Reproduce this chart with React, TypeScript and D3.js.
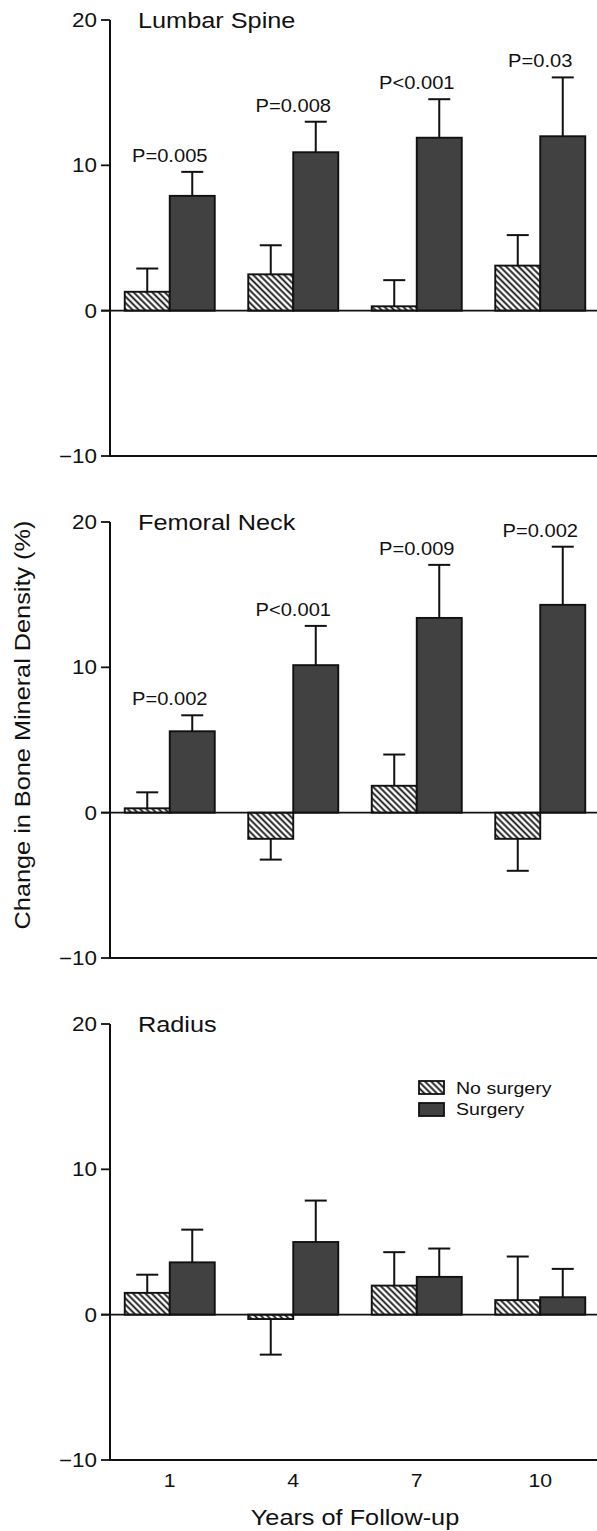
import React from 'react';
import * as d3 from 'd3';

// follow-up years and the two groups
const YEARS = ['1', '4', '7', '10'];
const SERIES = ['No surgery', 'Surgery'];
const Y_DOMAIN: [number, number] = [-10, 20];

// Lumbar spine: mean change (%) and SE
const LUMBAR_NO = [1.3, 2.5, 0.3, 3.1];
const LUMBAR_NO_SE = [1.6, 2.0, 1.8, 2.1];
const LUMBAR_SURG = [7.9, 10.9, 11.9, 12.0];
const LUMBAR_SURG_SE = [1.65, 2.1, 2.65, 4.05];
const LUMBAR_P = ['P=0.005', 'P=0.008', 'P<0.001', 'P=0.03'];

// Femoral neck
const FEMORAL_NO = [0.3, -1.8, 1.85, -1.8];
const FEMORAL_NO_SE = [1.1, 1.43, 2.15, 2.2];
const FEMORAL_SURG = [5.6, 10.15, 13.4, 14.3];
const FEMORAL_SURG_SE = [1.1, 2.7, 3.65, 4.0];
const FEMORAL_P = ['P=0.002', 'P<0.001', 'P=0.009', 'P=0.002'];

// Radius
const RADIUS_NO = [1.5, -0.3, 2.0, 1.0];
const RADIUS_NO_SE = [1.25, 2.45, 2.3, 3.0];
const RADIUS_SURG = [3.6, 5.0, 2.6, 1.2];
const RADIUS_SURG_SE = [2.25, 2.85, 1.95, 1.95];
const RADIUS_P: string[] = [];

const PANELS = [
  { title: 'Lumbar Spine', no: LUMBAR_NO, noSe: LUMBAR_NO_SE, surg: LUMBAR_SURG, surgSe: LUMBAR_SURG_SE, p: LUMBAR_P },
  { title: 'Femoral Neck', no: FEMORAL_NO, noSe: FEMORAL_NO_SE, surg: FEMORAL_SURG, surgSe: FEMORAL_SURG_SE, p: FEMORAL_P },
  { title: 'Radius', no: RADIUS_NO, noSe: RADIUS_NO_SE, surg: RADIUS_SURG, surgSe: RADIUS_SURG_SE, p: RADIUS_P },
];

const W = 597;
const H = 1531;
const AXIS_X = 110;
const PANEL_TOP = [20, 522, 1024];
const PANEL_H = 436;
const DARK = '#414141';
const INK = '#111';
const FONT = '"Liberation Sans", Arial, Helvetica, sans-serif';
const STRETCH = 1.15; // the type in the figure runs wide

const x = d3.scaleBand<string>().domain(YEARS).range([108, 602]);
const inner = d3.scaleBand<string>().domain(SERIES).range([-45, 45]);

// wide-set text helper
const T: React.FC<{ x: number; y: number; size: number; anchor?: string; rotate?: number; children: React.ReactNode }> = ({
  x: tx, y: ty, size, anchor = 'start', rotate = 0, children,
}) => (
  <text
    transform={`translate(${tx},${ty}) rotate(${rotate}) scale(${STRETCH},1)`}
    fontSize={size}
    textAnchor={anchor}
    fontFamily={FONT}
    fill={INK}
  >
    {children}
  </text>
);

const Panel: React.FC<{ idx: number }> = ({ idx }) => {
  const d = PANELS[idx];
  const top = PANEL_TOP[idx];
  const y = d3.scaleLinear().domain(Y_DOMAIN).range([top + PANEL_H, top]);
  const y0 = y(0);
  const ticks = y.ticks(3);

  const bars = YEARS.flatMap((yr, i) => [
    { yr, s: SERIES[0], v: d.no[i], se: d.noSe[i] },
    { yr, s: SERIES[1], v: d.surg[i], se: d.surgSe[i] },
  ]);

  return (
    <g>
      {/* y axis */}
      <line x1={AXIS_X} x2={AXIS_X} y1={y(20)} y2={y(-10)} stroke={INK} strokeWidth={2} />
      {ticks.map(t => (
        <g key={t}>
          <line x1={AXIS_X - 9} x2={AXIS_X} y1={y(t)} y2={y(t)} stroke={INK} strokeWidth={1.8} />
          <T x={AXIS_X - 13} y={y(t) + 7} size={19.5} anchor="end">{t < 0 ? `\u2212${Math.abs(t)}` : t}</T>
        </g>
      ))}
      {/* bottom line */}
      <line x1={AXIS_X - 1} x2={W} y1={y(-10)} y2={y(-10)} stroke={INK} strokeWidth={2.2} />

      {/* bars */}
      {bars.map(b => {
        const cx = (x(b.yr) as number) + x.bandwidth() / 2;
        const bx = cx + (inner(b.s) as number);
        const yv = y(b.v);
        return (
          <rect
            key={b.yr + b.s}
            x={bx}
            y={Math.min(yv, y0)}
            width={inner.bandwidth()}
            height={Math.abs(y0 - yv)}
            fill={b.s === SERIES[0] ? 'url(#hatch)' : DARK}
            stroke={INK}
            strokeWidth={1.9}
          />
        );
      })}

      {/* error bars, one-sided away from zero */}
      {bars.map(b => {
        const cx = (x(b.yr) as number) + x.bandwidth() / 2;
        const mx = cx + (inner(b.s) as number) + inner.bandwidth() / 2;
        const end = b.v >= 0 ? b.v + b.se : b.v - b.se;
        return (
          <g key={'e' + b.yr + b.s} stroke={INK} strokeWidth={2}>
            <line x1={mx} x2={mx} y1={y(b.v)} y2={y(end)} />
            <line x1={mx - 11} x2={mx + 11} y1={y(end)} y2={y(end)} />
          </g>
        );
      })}

      {/* zero line */}
      <line x1={AXIS_X - 9} x2={W} y1={y0} y2={y0} stroke={INK} strokeWidth={1.8} />

      {/* p values */}
      {d.p.map((p, i) => {
        const cx = (x(YEARS[i]) as number) + x.bandwidth() / 2;
        const top2 = y(d.surg[i] + d.surgSe[i]);
        return (
          <T key={'p' + i} x={cx} y={top2 - 10} size={17.5} anchor="middle">{p}</T>
        );
      })}

      <T x={138} y={top + 8} size={22}>{d.title}</T>
    </g>
  );
};

const App: React.FC = () => {
  const bottom = PANEL_TOP[2] + PANEL_H;
  return (
    <div style={{ position: 'absolute', left: 0, top: 0 }}>
      <svg width={W} height={H} style={{ display: 'block', background: '#fff' }}>
        <defs>
          <pattern id="hatch" patternUnits="userSpaceOnUse" width={4.4} height={4.4} patternTransform="rotate(-45)">
            <rect width={4.4} height={4.4} fill="#fff" />
            <line x1={2.2} y1={0} x2={2.2} y2={4.4} stroke={INK} strokeWidth={1.8} />
          </pattern>
        </defs>
        {PANELS.map((_, i) => <Panel key={i} idx={i} />)}

        {/* x tick labels */}
        {YEARS.map(yr => (
          <T key={yr} x={(x(yr) as number) + x.bandwidth() / 2} y={bottom + 27} size={18.5} anchor="middle">{yr}</T>
        ))}
        <T x={355} y={1525} size={22} anchor="middle">Years of Follow-up</T>
        <T x={30} y={725} size={22} anchor="middle" rotate={-90}>Change in Bone Mineral Density (%)</T>

        {/* legend */}
        <g>
          <rect x={419} y={1081} width={25} height={13} fill="url(#hatch)" stroke={INK} strokeWidth={1.8} />
          <rect x={419} y={1103} width={25} height={13} fill={DARK} stroke={INK} strokeWidth={1.8} />
          <T x={456} y={1094} size={17}>{SERIES[0]}</T>
          <T x={456} y={1115} size={17}>{SERIES[1]}</T>
        </g>
      </svg>
    </div>
  );
};

export default App;
